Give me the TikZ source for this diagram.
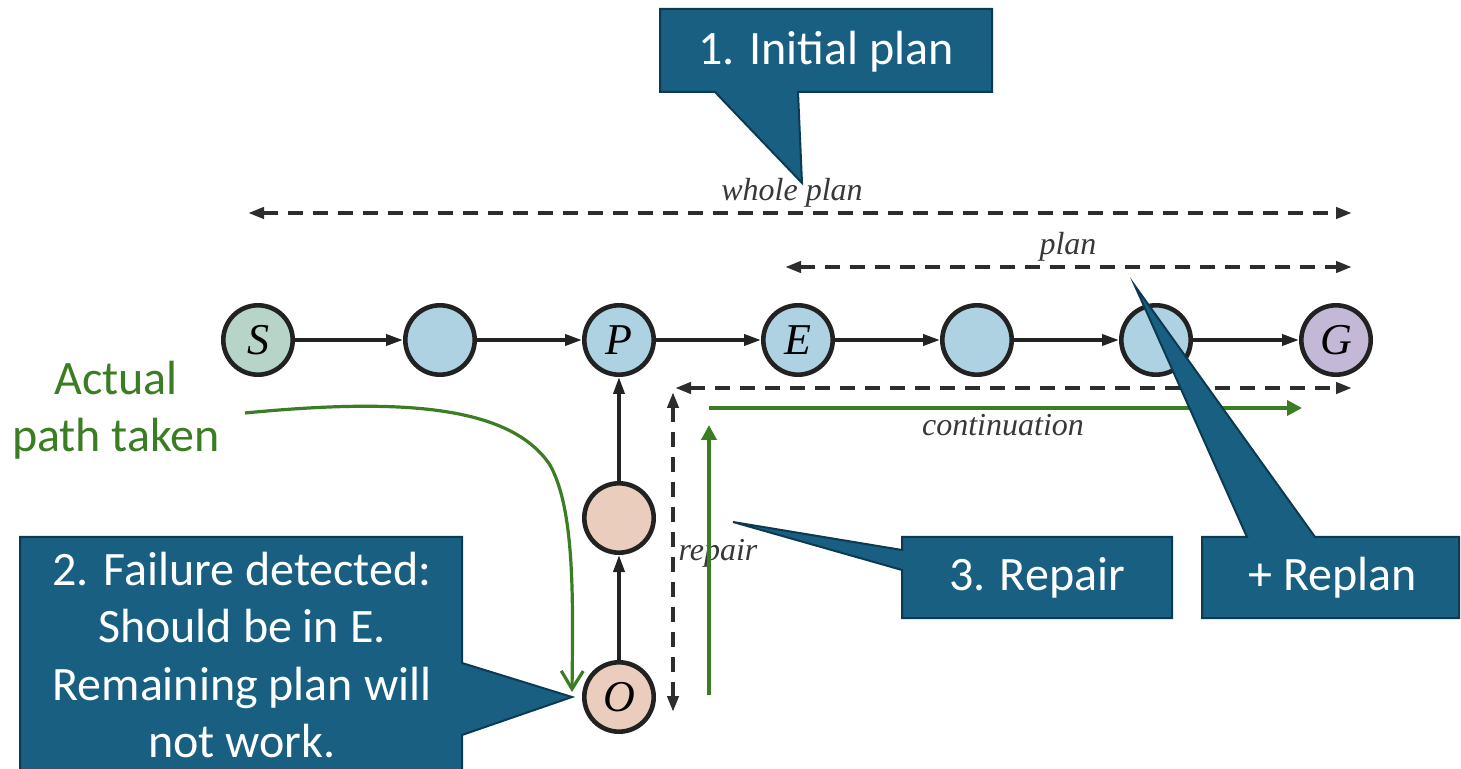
\documentclass[tikz,border=0pt]{standalone}
\usepackage{fontspec}
\setmainfont{Carlito}
\newfontfamily\tnr{Liberation Serif}
\usetikzlibrary{arrows.meta}
\definecolor{calfill}{HTML}{185F81}
\definecolor{caldraw}{HTML}{0C3A50}
\definecolor{pgreen}{HTML}{3A7D22}
\definecolor{sfill}{HTML}{B7D4C8}
\definecolor{bfill}{HTML}{AED2E2}
\definecolor{gfill}{HTML}{C3B8D5}
\definecolor{pfill}{HTML}{EBCDBE}
\definecolor{ink}{HTML}{222222}
\begin{document}
\begin{tikzpicture}[x=0.5pt,y=-0.5pt,
  state/.style={circle, draw=ink, line width=2.3pt, minimum size=34.7pt, inner sep=0pt,
    font=\tnr\itshape\fontsize{22}{22}\selectfont},
  edge/.style={draw=ink, line width=1.8pt, -{Triangle[length=8.5pt,width=5.5pt]}},
  dasharrow/.style={draw=ink!95, line width=2pt, dash pattern=on 7.5pt off 5pt,
    {Triangle[length=8pt,width=5.5pt]}-{Triangle[length=8pt,width=5.5pt]}},
  lbl/.style={font=\tnr\itshape\fontsize{16}{16}\selectfont, text=ink!90, inner sep=0pt},
  greenarrow/.style={draw=pgreen, line width=1.9pt, -{Triangle[length=7.5pt,width=7.5pt]}},
  callout/.style={fill=calfill, draw=caldraw, line width=1pt, line join=miter},
  caltext/.style={text=white, font=\fontsize{24}{28.7}\selectfont, align=center, inner sep=0pt}
]
\useasboundingbox (0,0) rectangle (1461,769);
\fill[white] (0,0) rectangle (1461,769);

% dashed range arrows
\coordinate (wl) at (248,213); \coordinate (wr) at (1352,213);
\coordinate (pl) at (785,267); \coordinate (pr) at (1352,267);
\coordinate (cl) at (675,388); \coordinate (cr) at (1352,388);
\coordinate (rt) at (673,392); \coordinate (rb) at (673,712);
\draw[dasharrow] (wl) -- (wr);
\draw[dasharrow] (pl) -- (pr);
\draw[dasharrow] (cl) -- (cr);
\draw[dasharrow] (rt) -- (rb);

% states
\node[state, fill=sfill] (n1) at (258,340) {S};
\node[state, fill=bfill] (n2) at (440,340) {};
\node[state, fill=bfill] (n3) at (619,340) {P};
\node[state, fill=bfill] (n4) at (798,340) {E};
\node[state, fill=bfill] (n5) at (977,340) {};
\node[state, fill=bfill] (n6) at (1156,340) {};
\node[state, fill=gfill] (n7) at (1336,340) {G};
\node[state, fill=pfill] (r1) at (619,518) {};
\node[state, fill=pfill] (o) at (619,697) {O};

\draw[edge] (n1) -- (n2);
\draw[edge] (n2) -- (n3);
\draw[edge] (n3) -- (n4);
\draw[edge] (n4) -- (n5);
\draw[edge] (n5) -- (n6);
\draw[edge] (n6) -- (n7);
\draw[edge] (o) -- (r1);
\draw[edge] (r1) -- (n3);

% labels
\node[lbl] (lwhole) at (792,193) {whole plan};
\node[lbl] (lplan) at (1068,247) {plan};
\node[lbl] (lcont) at (1003,425) {continuation};
\node[lbl] (lrep) at (718,553) {repair};

% actual path taken
\node[text=pgreen, font=\fontsize{24}{28.5}\selectfont, align=center, inner sep=0pt] (actual) at (116,410) {Actual\\path taken};
\coordinate (gs) at (245,413);
\coordinate (gm) at (550,465);
\coordinate (ge) at (572,692);
\draw[draw=pgreen, line width=1.6pt, -{Straight Barb[length=9pt,width=11pt,line width=1.6pt]}]
  (gs) .. controls (400,398) and (510,405) .. (gm) .. controls (575,510) and (573,600) .. (ge);
\coordinate (gh1) at (709,408); \coordinate (gh2) at (1302,408);
\coordinate (gv1) at (709,695); \coordinate (gv2) at (709,425);
\draw[greenarrow] (gh1) -- (gh2);
\draw[greenarrow] (gv1) -- (gv2);

% callouts
\draw[callout] (660,9) -- (992,9) -- (992,92) -- (798,92) -- (802,183) -- (715,92) -- (660,92) -- cycle;
\node[caltext] (c1) at (826,52) {1. Initial plan};

\draw[callout] (20,537) -- (462,537) -- (462,663) -- (572,697) -- (462,735) -- (462,775) -- (20,775) -- cycle;
\node[caltext] (c2) at (242,655) {2. Failure detected:\\Should be in E.\\Remaining plan will\\not work.};

\draw[callout] (902,537) -- (1172,537) -- (1172,618) -- (902,618) -- (902,570) -- (733,522) -- (902,550) -- cycle;
\node[caltext] (c3) at (1037,578) {3. Repair};

\draw[callout] (1202,537) -- (1247,537) -- (1135,286) -- (1315,537) -- (1459,537) -- (1459,618) -- (1202,618) -- cycle;
\node[caltext] (c4) at (1333,578) {+ Replan};
\end{tikzpicture}
\end{document}
